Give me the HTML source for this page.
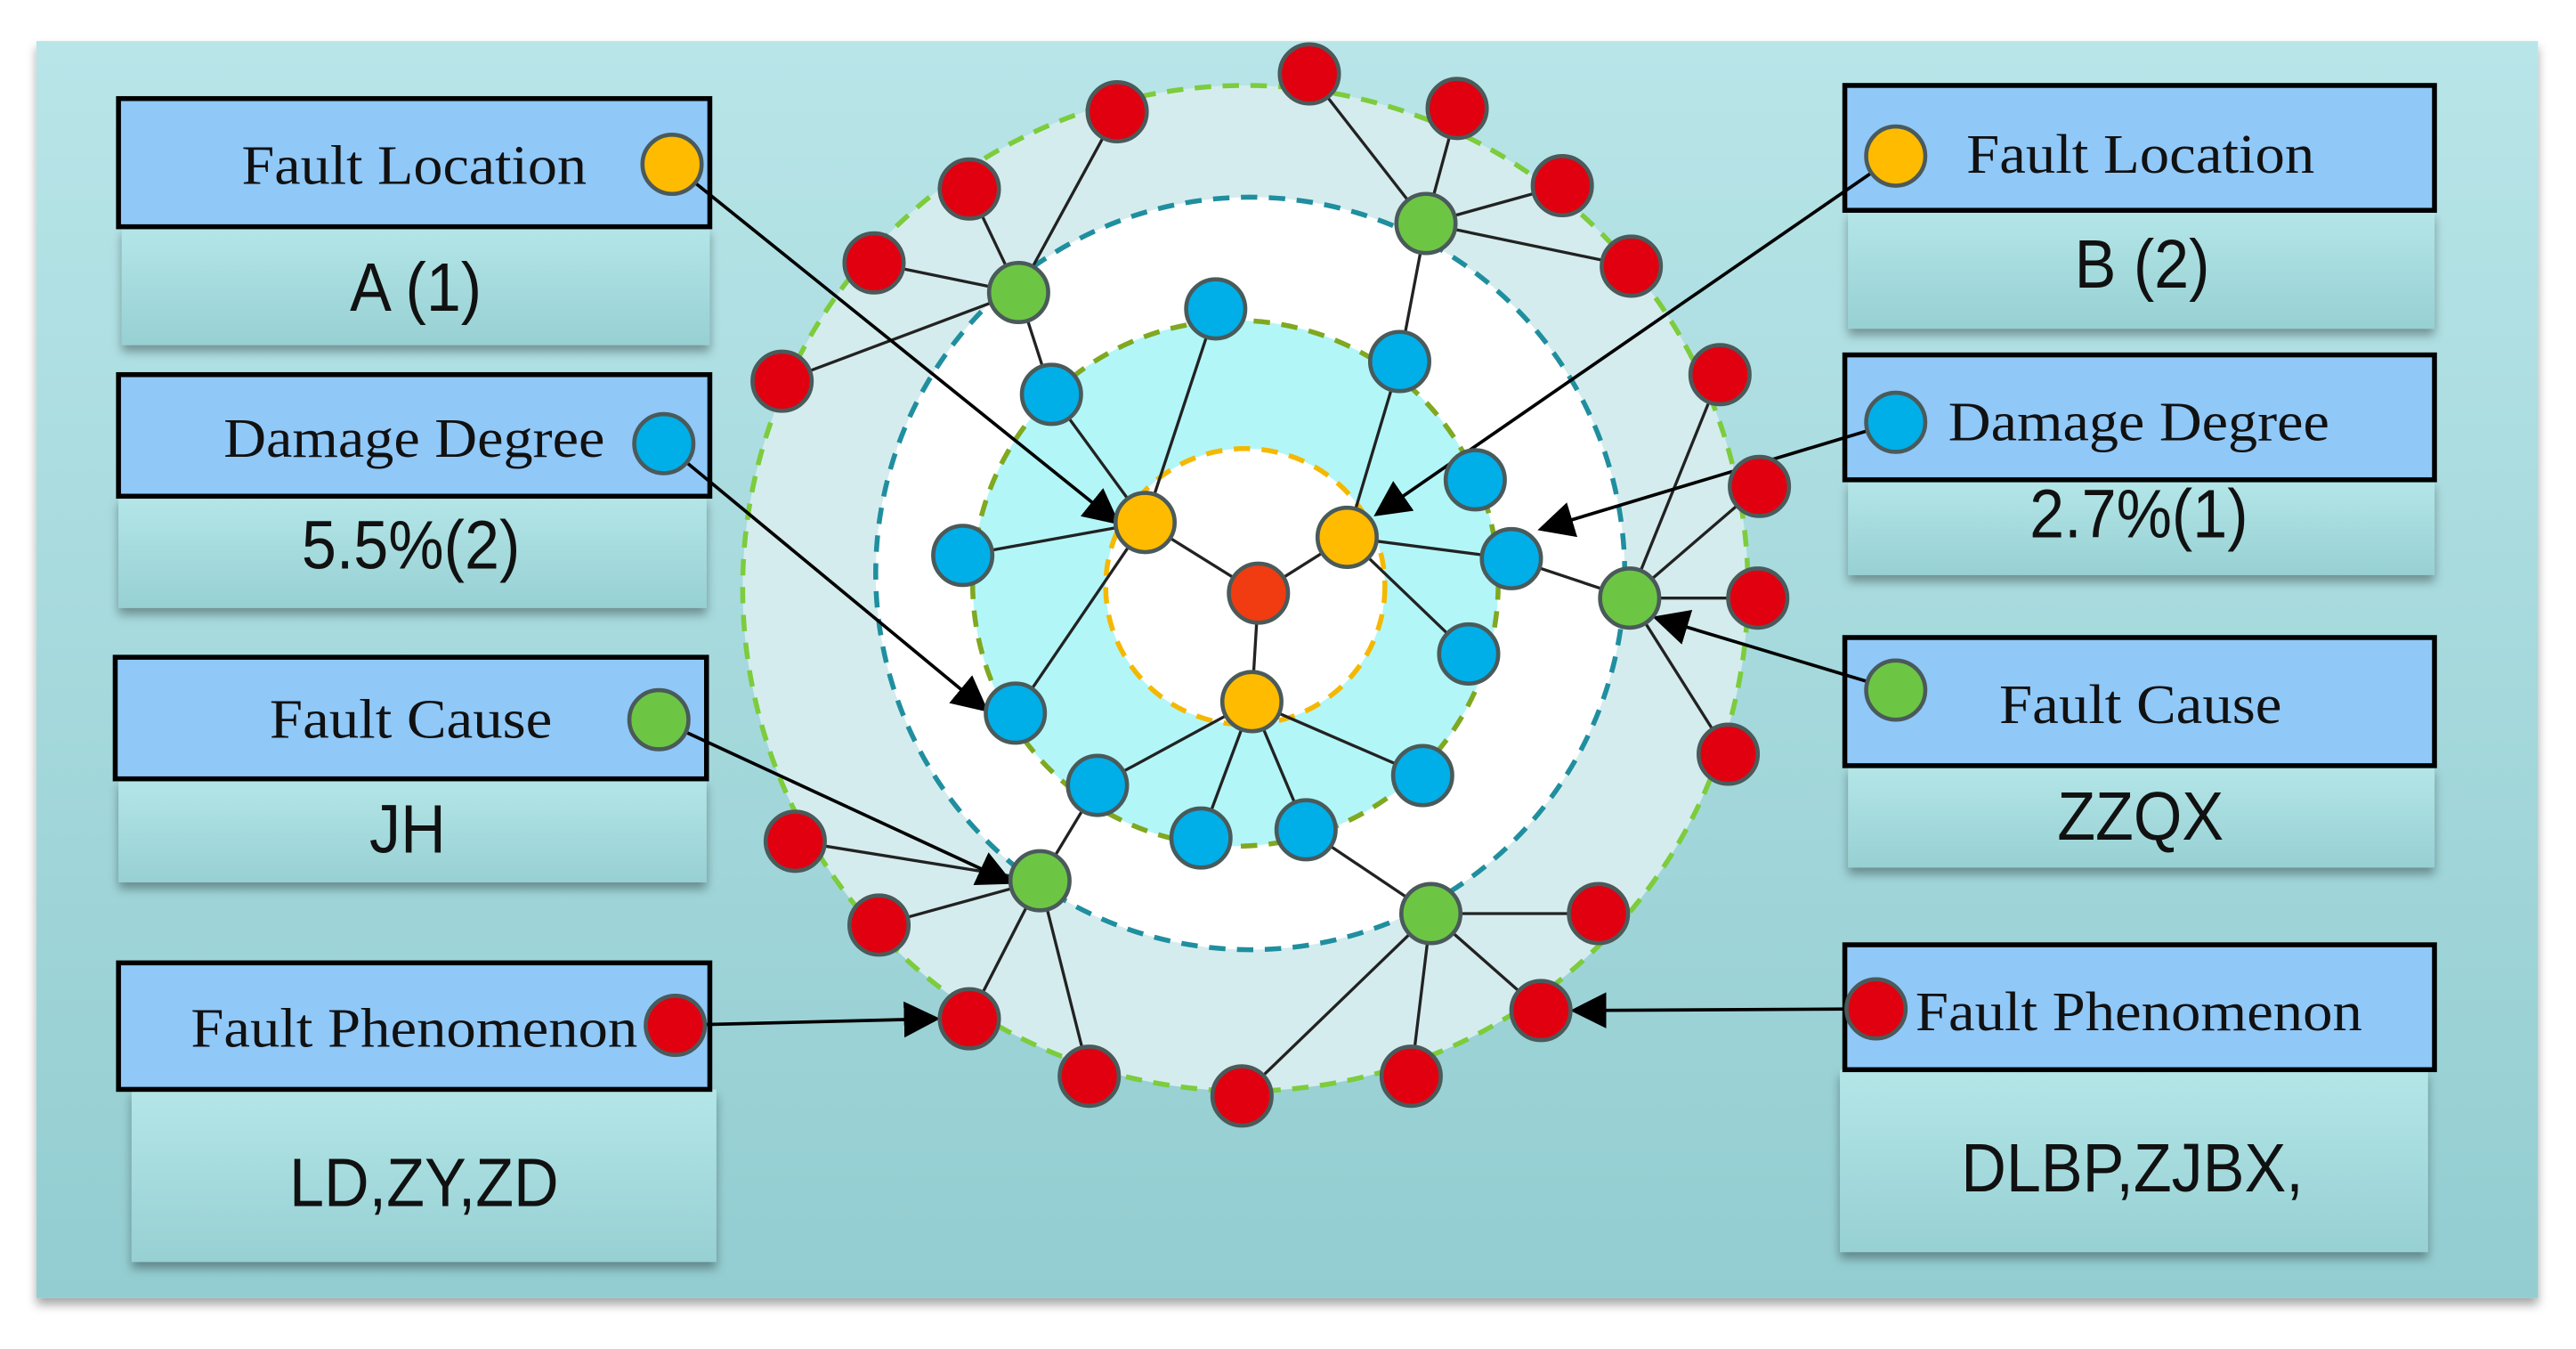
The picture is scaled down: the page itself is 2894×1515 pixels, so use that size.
<!DOCTYPE html>
<html><head><meta charset="utf-8"><style>html,body{margin:0;padding:0;background:#fff;}svg{display:block}</style></head>
<body>
<svg width="2894" height="1515" viewBox="0 0 1568 821" xmlns="http://www.w3.org/2000/svg">
<defs>
<linearGradient id="bg" x1="0" y1="0" x2="0" y2="1"><stop offset="0" stop-color="#b8e5e8"/><stop offset="1" stop-color="#93cdd1"/></linearGradient>
<linearGradient id="bd" x1="0" y1="0" x2="0" y2="1"><stop offset="0" stop-color="#b4e6e8"/><stop offset="1" stop-color="#97d0d3"/></linearGradient>
<filter id="sh" x="-5%" y="-5%" width="110%" height="120%"><feDropShadow dx="0" dy="4" stdDeviation="3" flood-color="#000" flood-opacity="0.35"/></filter>
<marker id="ar" viewBox="0 0 10 10" refX="9" refY="5" markerWidth="11" markerHeight="11" orient="auto"><path d="M0,0 L10,5 L0,10 z" fill="#000"/></marker>
</defs>
<rect x="22" y="25" width="1523" height="765" fill="url(#bg)" filter="url(#sh)"/>
<circle cx="758" cy="358" r="306" fill="#d5ecee" stroke="#7ccc3c" stroke-width="3" stroke-dasharray="10,7"/>
<ellipse cx="761" cy="349" rx="228" ry="229" fill="#fff" stroke="#1f8f9f" stroke-width="3" stroke-dasharray="10,7"/>
<circle cx="752" cy="355" r="160" fill="#b3f6f8" stroke="#80a820" stroke-width="3" stroke-dasharray="10,7"/>
<ellipse cx="758" cy="357" rx="85" ry="84" fill="#fff" stroke="#f5b800" stroke-width="3" stroke-dasharray="10,7"/>
<g font-family="Liberation Serif, serif" font-size="34" text-anchor="middle" fill="#111" lengthAdjust="spacingAndGlyphs">
<g filter="url(#sh)">
<rect x="74" y="138" width="358" height="72" fill="url(#bd)"/>
<rect x="72" y="302" width="358" height="68" fill="url(#bd)"/>
<rect x="72" y="474" width="358" height="63" fill="url(#bd)"/>
<rect x="80" y="663" width="356" height="105" fill="url(#bd)"/>
<rect x="1125" y="128" width="357" height="72" fill="url(#bd)"/>
<rect x="1125" y="292" width="357" height="58" fill="url(#bd)"/>
<rect x="1125" y="466" width="357" height="62" fill="url(#bd)"/>
<rect x="1120" y="651" width="358" height="111" fill="url(#bd)"/>
</g>
<rect x="72" y="60" width="360" height="78" fill="#90c8f8" stroke="#000" stroke-width="3"/>
<rect x="72" y="228" width="360" height="74" fill="#90c8f8" stroke="#000" stroke-width="3"/>
<rect x="70" y="400" width="360" height="74" fill="#90c8f8" stroke="#000" stroke-width="3"/>
<rect x="72" y="586" width="360" height="77" fill="#90c8f8" stroke="#000" stroke-width="3"/>
<rect x="1123" y="52" width="359" height="76" fill="#90c8f8" stroke="#000" stroke-width="3"/>
<rect x="1123" y="216" width="359" height="76" fill="#90c8f8" stroke="#000" stroke-width="3"/>
<rect x="1123" y="388" width="359" height="78" fill="#90c8f8" stroke="#000" stroke-width="3"/>
<rect x="1123" y="575" width="359" height="76" fill="#90c8f8" stroke="#000" stroke-width="3"/>
<text x="252" y="112" textLength="210" lengthAdjust="spacingAndGlyphs">Fault Location</text>
<text x="252" y="278" textLength="232" lengthAdjust="spacingAndGlyphs">Damage Degree</text>
<text x="250" y="449" textLength="172" lengthAdjust="spacingAndGlyphs">Fault Cause</text>
<text x="252" y="637" textLength="272" lengthAdjust="spacingAndGlyphs">Fault Phenomenon</text>
<text x="1303" y="105" textLength="212" lengthAdjust="spacingAndGlyphs">Fault Location</text>
<text x="1302" y="268" textLength="232" lengthAdjust="spacingAndGlyphs">Damage Degree</text>
<text x="1303" y="440" textLength="172" lengthAdjust="spacingAndGlyphs">Fault Cause</text>
<text x="1302" y="627" textLength="272" lengthAdjust="spacingAndGlyphs">Fault Phenomenon</text>
</g>
<g font-family="Liberation Sans, sans-serif" font-size="38" text-anchor="middle" fill="#111">
<text x="253" y="189" transform="translate(253 189) scale(1 1.1) translate(-253 -189)">A (1)</text>
<text x="250" y="346" transform="translate(250 346) scale(1 1.1) translate(-250 -346)">5.5%(2)</text>
<text x="248" y="519" transform="translate(248 519) scale(1 1.1) translate(-248 -519)">JH</text>
<text x="258" y="734" transform="translate(258 734) scale(1 1.1) translate(-258 -734)">LD,ZY,ZD</text>
<text x="1304" y="175" transform="translate(1304 175) scale(1 1.1) translate(-1304 -175)">B (2)</text>
<text x="1302" y="327" transform="translate(1302 327) scale(1 1.1) translate(-1302 -327)">2.7%(1)</text>
<text x="1303" y="511" transform="translate(1303 511) scale(1 1.1) translate(-1303 -511)">ZZQX</text>
<text x="1298" y="725" transform="translate(1298 725) scale(1 1.1) translate(-1298 -725)">DLBP,ZJBX,</text>
</g>
<g stroke="#222" stroke-width="1.8" fill="none">
<path d="M766,361L697,318M766,361L820,327M766,361L762,427"/>
<path d="M697,318L740,188M697,318L640,240M697,318L586,338M697,318L618,434"/>
<path d="M820,327L852,220L868,136M820,327L894,398M820,327L920,340"/>
<path d="M762,427L668,478M762,427L731,510M762,427L795,505M762,427L866,472"/>
<path d="M640,240L620,178M620,178L680,68M620,178L590,115M620,178L532,160M620,178L476,232"/>
<path d="M868,136L797,45M868,136L887,66M868,136L951,113M868,136L993,162"/>
<path d="M920,340L992,364M992,364L1047,228M992,364L1071,296M992,364L1070,364M992,364L1052,459"/>
<path d="M668,478L633,536M633,536L484,512M633,536L535,563M633,536L590,620M633,536L663,655"/>
<path d="M795,505L871,556M871,556L973,556M871,556L938,615M871,556L859,655M871,556L756,667"/>
</g>
<g stroke="#000" stroke-width="2" fill="none" marker-end="url(#ar)">
<path d="M409,100L680,318"/>
<path d="M404,270L600,432"/>
<path d="M401,438L615,537"/>
<path d="M411,624L570,620"/>
<path d="M1154,95L838,313"/>
<path d="M1154,257L938,322"/>
<path d="M1154,420L1008,376"/>
<path d="M1142,614L958,615"/>
</g>
<g stroke="#4a5a5a" stroke-width="2.5">
<g fill="#e00010">
<circle cx="797" cy="45" r="18"/><circle cx="680" cy="68" r="18"/><circle cx="887" cy="66" r="18"/><circle cx="590" cy="115" r="18"/><circle cx="951" cy="113" r="18"/><circle cx="532" cy="160" r="18"/><circle cx="993" cy="162" r="18"/><circle cx="476" cy="232" r="18"/><circle cx="1047" cy="228" r="18"/><circle cx="1071" cy="296" r="18"/><circle cx="1070" cy="364" r="18"/><circle cx="1052" cy="459" r="18"/><circle cx="484" cy="512" r="18"/><circle cx="535" cy="563" r="18"/><circle cx="973" cy="556" r="18"/><circle cx="590" cy="620" r="18"/><circle cx="938" cy="615" r="18"/><circle cx="663" cy="655" r="18"/><circle cx="756" cy="667" r="18"/><circle cx="859" cy="655" r="18"/>
<circle cx="411" cy="624" r="18"/><circle cx="1142" cy="614" r="18"/>
</g>
<circle cx="766" cy="361" r="18" fill="#f03c10"/>
<g fill="#ffbb00"><circle cx="697" cy="318" r="18"/><circle cx="820" cy="327" r="18"/><circle cx="762" cy="427" r="18"/><circle cx="409" cy="100" r="18"/><circle cx="1154" cy="95" r="18"/></g>
<g fill="#00aee8"><circle cx="740" cy="188" r="18"/><circle cx="640" cy="240" r="18"/><circle cx="852" cy="220" r="18"/><circle cx="898" cy="292" r="18"/><circle cx="920" cy="340" r="18"/><circle cx="586" cy="338" r="18"/><circle cx="894" cy="398" r="18"/><circle cx="618" cy="434" r="18"/><circle cx="668" cy="478" r="18"/><circle cx="866" cy="472" r="18"/><circle cx="731" cy="510" r="18"/><circle cx="795" cy="505" r="18"/><circle cx="404" cy="270" r="18"/><circle cx="1154" cy="257" r="18"/></g>
<g fill="#6cc644"><circle cx="620" cy="178" r="18"/><circle cx="868" cy="136" r="18"/><circle cx="992" cy="364" r="18"/><circle cx="633" cy="536" r="18"/><circle cx="871" cy="556" r="18"/><circle cx="401" cy="438" r="18"/><circle cx="1154" cy="420" r="18"/></g>
</g>
</svg>
</body></html>
